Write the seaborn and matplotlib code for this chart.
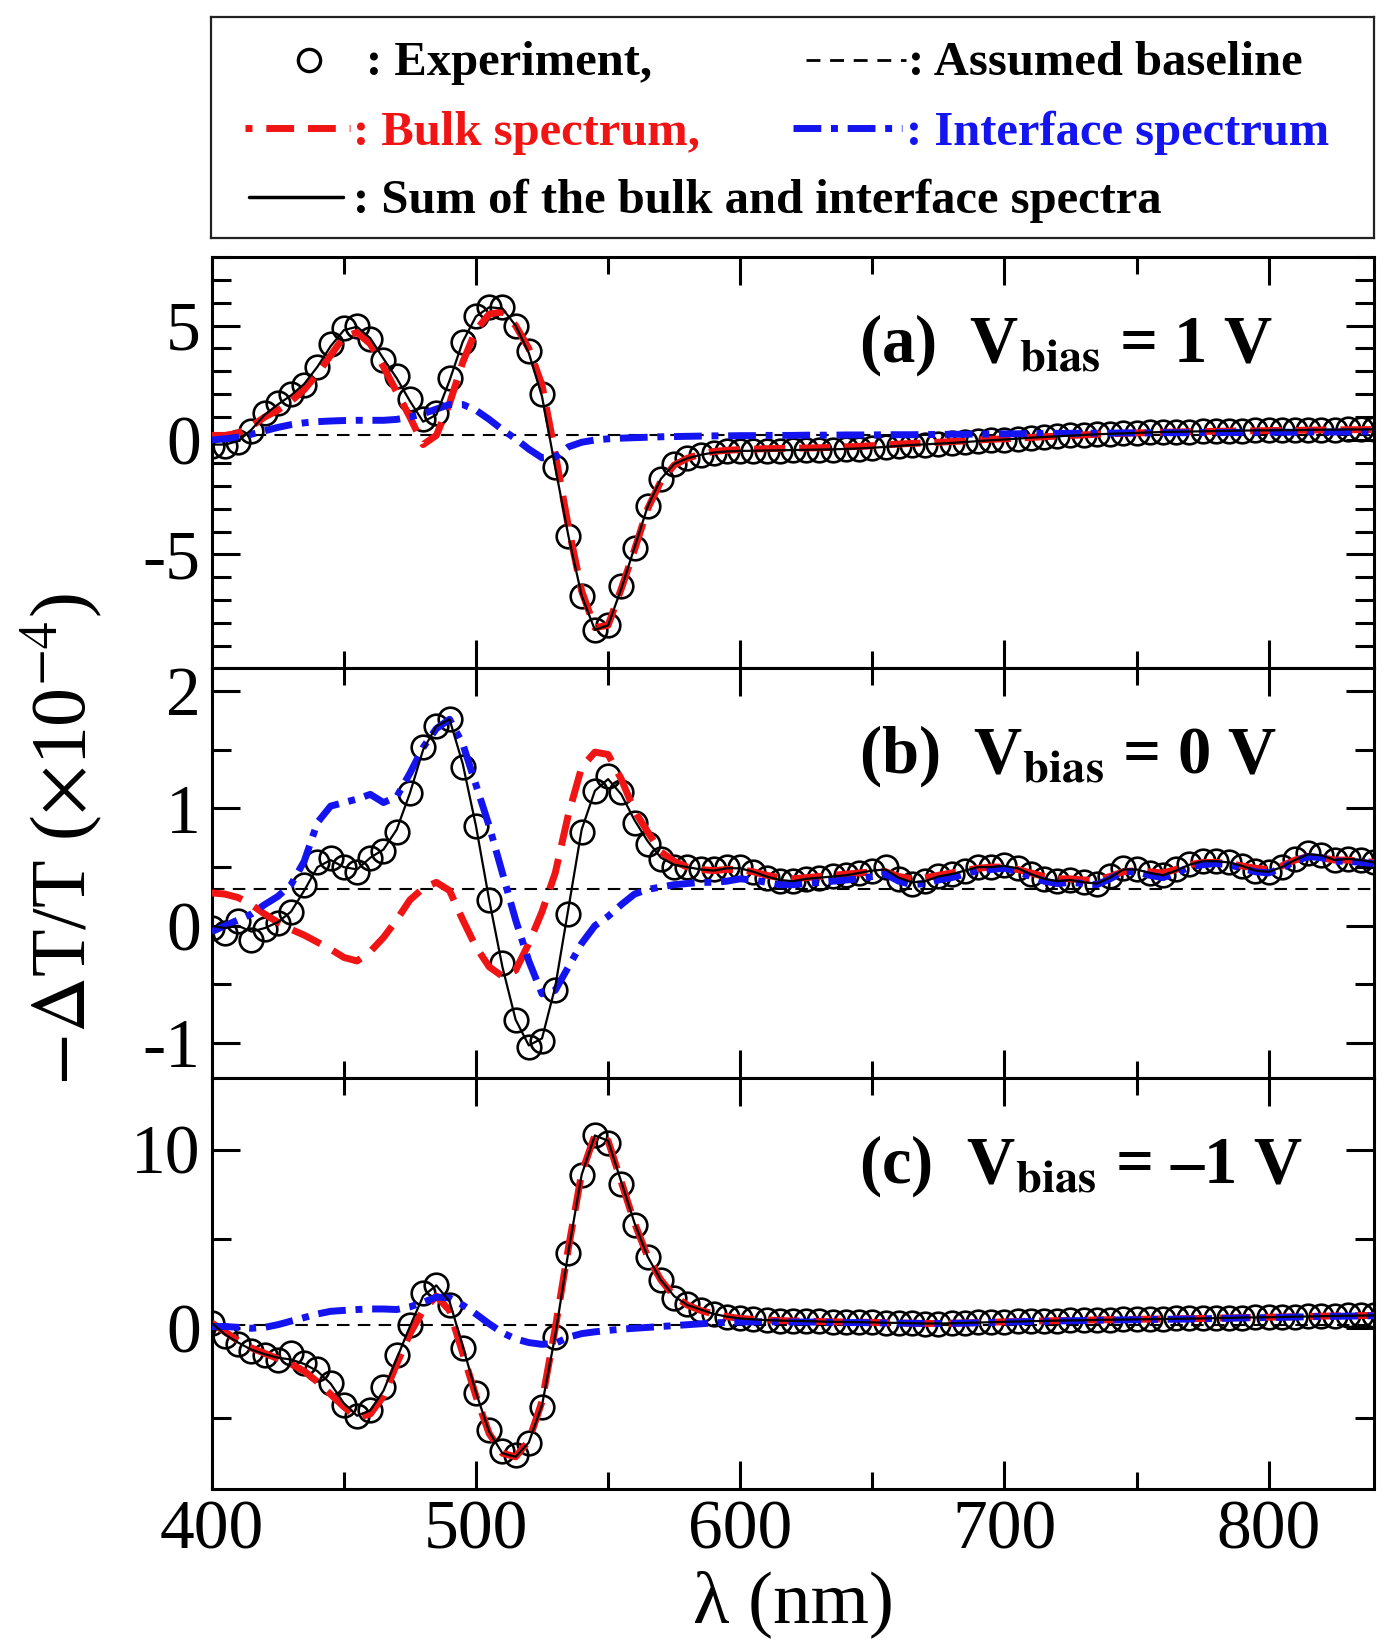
import numpy as np
import seaborn as sns
import matplotlib.pyplot as plt
from matplotlib.ticker import MultipleLocator

# ---------- 1. Data ----------
wl = np.arange(400, 845, 5)  # wavelength grid, nm

# (a) V_bias = 1 V
exp_a = [-0.25, -0.25, -0.1, 0.4, 1.2, 1.6, 2.0, 2.4, 3.2, 4.2,
         4.9, 5.0, 4.4, 3.5, 2.8, 1.8, 0.9, 1.2, 2.7, 4.3,
         5.4, 5.8, 5.8, 5.0, 3.9, 2.0, -1.2, -4.2, -6.8, -8.3,
         -8.1, -6.4, -4.7, -2.9, -1.7, -1.05, -0.8, -0.65, -0.55, -0.5,
         -0.5, -0.48, -0.47, -0.46, -0.45, -0.45, -0.43, -0.42, -0.4, -0.38,
         -0.35, -0.3, -0.26, -0.22, -0.2, -0.17, -0.14, -0.1, -0.05, 0.0,
         0.02, 0.06, 0.1, 0.13, 0.16, 0.2, 0.22, 0.25, 0.28, 0.3,
         0.32, 0.33, 0.35, 0.36, 0.37, 0.38, 0.4, 0.4, 0.41, 0.42,
         0.42, 0.43, 0.44, 0.44, 0.45, 0.45, 0.46, 0.46, 0.47]
bulk_a = [0.2, 0.2, 0.3, 0.6, 1.0, 1.3, 1.7, 2.2, 2.9, 3.7,
          4.5, 4.7, 4.2, 3.2, 2.1, 1.0, -0.2, 0.2, 1.6, 3.4,
          4.8, 5.5, 5.6, 5.0, 4.0, 2.4, -0.6, -3.8, -6.6, -8.2,
          -8.1, -6.5, -4.8, -3.0, -1.8, -1.1, -0.8, -0.62, -0.5, -0.45,
          -0.42, -0.4, -0.38, -0.37, -0.36, -0.35, -0.34, -0.32, -0.3, -0.28,
          -0.25, -0.21, -0.18, -0.15, -0.13, -0.1, -0.07, -0.04, 0.0, 0.03,
          0.05, 0.08, 0.11, 0.14, 0.17, 0.2, 0.22, 0.25, 0.27, 0.29,
          0.31, 0.32, 0.34, 0.35, 0.36, 0.37, 0.38, 0.39, 0.4, 0.4,
          0.41, 0.42, 0.42, 0.43, 0.44, 0.44, 0.45, 0.45, 0.46]
intf_a = [0.0, 0.05, 0.12, 0.25, 0.4, 0.55, 0.67, 0.75, 0.8, 0.83,
          0.85, 0.86, 0.86, 0.86, 0.9, 1.0, 1.15, 1.35, 1.55, 1.55,
          1.3, 0.9, 0.45, 0.05, -0.4, -0.78, -0.75, -0.3, -0.1, 0.0,
          0.05, 0.08, 0.1, 0.12, 0.14, 0.15, 0.16, 0.17, 0.18, 0.18,
          0.19, 0.19, 0.2, 0.2, 0.2, 0.21, 0.21, 0.21, 0.22, 0.22,
          0.22, 0.23, 0.23, 0.23, 0.24, 0.24, 0.25, 0.25, 0.26, 0.26,
          0.27, 0.27, 0.28, 0.28, 0.29, 0.29, 0.3, 0.3, 0.3, 0.31,
          0.31, 0.31, 0.32, 0.32, 0.32, 0.33, 0.33, 0.33, 0.33, 0.34,
          0.34, 0.34, 0.34, 0.35, 0.35, 0.35, 0.35, 0.36, 0.36]
sum_a = [-0.2, -0.2, -0.05, 0.45, 1.1, 1.55, 1.95, 2.45, 3.2, 4.1,
         4.8, 4.95, 4.45, 3.55, 2.7, 1.7, 0.8, 1.1, 2.6, 4.3,
         5.4, 5.8, 5.75, 5.0, 3.8, 1.9, -1.2, -4.2, -6.8, -8.3,
         -8.1, -6.5, -4.7, -2.9, -1.7, -1.05, -0.8, -0.65, -0.55, -0.5,
         -0.48, -0.47, -0.46, -0.45, -0.44, -0.43, -0.42, -0.41, -0.39, -0.37,
         -0.34, -0.3, -0.26, -0.22, -0.19, -0.16, -0.13, -0.09, -0.05, -0.01,
         0.02, 0.06, 0.1, 0.13, 0.16, 0.19, 0.22, 0.25, 0.27, 0.29,
         0.31, 0.33, 0.35, 0.36, 0.37, 0.38, 0.39, 0.4, 0.41, 0.42,
         0.42, 0.43, 0.43, 0.44, 0.45, 0.45, 0.46, 0.46, 0.47]
base_a = 0.2

# (b) V_bias = 0 V
exp_b = [-0.02, -0.06, 0.04, -0.12, -0.03, 0.02, 0.12, 0.35, 0.54, 0.58,
         0.5, 0.46, 0.58, 0.64, 0.8, 1.13, 1.52, 1.7, 1.76, 1.35,
         0.85, 0.22, -0.32, -0.8, -1.03, -0.98, -0.55, 0.1, 0.8, 1.15,
         1.28, 1.14, 0.88, 0.7, 0.57, 0.5, 0.5, 0.48, 0.48, 0.5,
         0.5, 0.46, 0.41, 0.38, 0.38, 0.4, 0.41, 0.42, 0.43, 0.45,
         0.47, 0.5, 0.4, 0.36, 0.38, 0.42, 0.44, 0.47, 0.5, 0.5,
         0.52, 0.49, 0.44, 0.4, 0.38, 0.39, 0.37, 0.36, 0.42, 0.49,
         0.48, 0.45, 0.43, 0.48, 0.53, 0.55, 0.55, 0.54, 0.51, 0.47,
         0.46, 0.5, 0.57, 0.62, 0.6, 0.56, 0.57, 0.56, 0.54]
bulk_b = [0.28, 0.27, 0.24, 0.18, 0.1, 0.03, -0.03, -0.08, -0.14, -0.2,
          -0.27, -0.3, -0.22, -0.1, 0.05, 0.22, 0.32, 0.37, 0.3, 0.05,
          -0.18, -0.35, -0.43, -0.38, -0.15, 0.12, 0.45, 0.95, 1.35, 1.48,
          1.46, 1.25, 0.98, 0.8, 0.63, 0.55, 0.5, 0.48, 0.47, 0.48,
          0.48, 0.46, 0.43, 0.41, 0.4, 0.41, 0.42, 0.43, 0.44, 0.45,
          0.46, 0.46, 0.42, 0.4, 0.41, 0.43, 0.45, 0.47, 0.49, 0.5,
          0.5, 0.48, 0.45, 0.42, 0.4, 0.4, 0.39, 0.39, 0.42, 0.46,
          0.47, 0.46, 0.45, 0.48, 0.52, 0.54, 0.54, 0.53, 0.51, 0.49,
          0.48, 0.51, 0.56, 0.59, 0.58, 0.56, 0.56, 0.55, 0.54]
intf_b = [-0.05, 0.0, 0.05, 0.1, 0.18, 0.25, 0.35, 0.55, 0.88, 1.02,
          1.05, 1.08, 1.12, 1.05, 1.1, 1.3, 1.52, 1.68, 1.76, 1.55,
          1.2, 0.85, 0.45, 0.05, -0.3, -0.58, -0.55, -0.35, -0.15, 0.0,
          0.08, 0.18, 0.27, 0.31, 0.33, 0.35, 0.36, 0.37, 0.37, 0.38,
          0.4, 0.39, 0.37, 0.35, 0.35, 0.36, 0.37, 0.38, 0.39, 0.4,
          0.42, 0.44, 0.38, 0.35, 0.36, 0.39, 0.41, 0.44, 0.47, 0.48,
          0.49, 0.46, 0.42, 0.38, 0.36, 0.37, 0.36, 0.35, 0.4, 0.46,
          0.46, 0.43, 0.41, 0.45, 0.5, 0.52, 0.53, 0.52, 0.49, 0.46,
          0.45, 0.49, 0.55, 0.59, 0.58, 0.55, 0.55, 0.54, 0.53]
sum_b = [0.0, -0.02, 0.0, -0.05, -0.02, 0.03, 0.12, 0.3, 0.5, 0.56,
         0.5, 0.48, 0.58, 0.65, 0.82, 1.13, 1.5, 1.7, 1.76, 1.38,
         0.85, 0.22, -0.35, -0.8, -1.02, -0.96, -0.52, 0.15, 0.82, 1.15,
         1.25, 1.12, 0.9, 0.72, 0.58, 0.52, 0.5, 0.48, 0.47, 0.49,
         0.49, 0.46, 0.42, 0.39, 0.38, 0.4, 0.41, 0.42, 0.43, 0.45,
         0.47, 0.48, 0.41, 0.37, 0.38, 0.42, 0.44, 0.47, 0.5, 0.5,
         0.51, 0.49, 0.44, 0.4, 0.38, 0.39, 0.37, 0.36, 0.41, 0.48,
         0.48, 0.45, 0.43, 0.47, 0.52, 0.55, 0.55, 0.54, 0.51, 0.47,
         0.46, 0.5, 0.56, 0.61, 0.6, 0.56, 0.57, 0.56, 0.54]
base_b = 0.31

# (c) V_bias = -1 V
exp_c = [0.3, -0.45, -0.9, -1.25, -1.5, -1.75, -1.4, -1.95, -2.3, -3.05,
         -4.3, -4.9, -4.6, -3.3, -1.5, 0.2, 2.0, 2.4, 1.3, -1.1,
         -3.6, -5.7, -6.9, -7.1, -6.4, -4.4, -0.5, 4.2, 8.6, 10.8,
         10.4, 8.1, 5.8, 4.0, 2.7, 1.7, 1.35, 1.05, 0.8, 0.65,
         0.55, 0.5, 0.45, 0.42, 0.4, 0.4, 0.38, 0.35, 0.35, 0.33,
         0.33, 0.3, 0.3, 0.28, 0.25, 0.25, 0.28, 0.3, 0.33, 0.35,
         0.35, 0.38, 0.4, 0.42, 0.42, 0.45, 0.45, 0.48, 0.48, 0.5,
         0.5, 0.52, 0.52, 0.55, 0.55, 0.55, 0.58, 0.6, 0.6, 0.62,
         0.62, 0.65, 0.65, 0.68, 0.7, 0.7, 0.72, 0.72, 0.72]
bulk_c = [0.3, -0.2, -0.7, -1.1, -1.4, -1.7, -2.0, -2.4, -3.0, -3.7,
          -4.4, -5.0, -4.8, -3.8, -2.0, -0.3, 1.0, 1.8, 1.0, -1.4,
          -3.8, -5.9, -7.0, -7.2, -6.3, -4.1, 0.0, 4.5, 8.7, 10.8,
          10.5, 8.2, 5.9, 4.0, 2.7, 1.8, 1.3, 1.0, 0.8, 0.65,
          0.55, 0.5, 0.46, 0.43, 0.41, 0.4, 0.38, 0.36, 0.35, 0.34,
          0.33, 0.31, 0.3, 0.28, 0.27, 0.27, 0.28, 0.3, 0.32, 0.34,
          0.36, 0.38, 0.4, 0.41, 0.43, 0.44, 0.45, 0.47, 0.48, 0.49,
          0.5, 0.51, 0.52, 0.53, 0.54, 0.55, 0.57, 0.58, 0.6, 0.61,
          0.62, 0.63, 0.65, 0.66, 0.68, 0.69, 0.7, 0.71, 0.72]
intf_c = [0.1, 0.1, 0.05, 0.0, 0.05, 0.2, 0.4, 0.6, 0.8, 0.95,
          1.0, 1.05, 1.08, 1.08, 1.05, 1.2, 1.45, 1.75, 1.7, 1.3,
          0.8, 0.25, -0.25, -0.6, -0.8, -0.9, -0.85, -0.5, -0.3, -0.2,
          -0.12, -0.05, 0.0, 0.05, 0.1, 0.15, 0.2, 0.25, 0.3, 0.33,
          0.35, 0.36, 0.36, 0.36, 0.35, 0.35, 0.34, 0.33, 0.32, 0.32,
          0.31, 0.3, 0.29, 0.28, 0.27, 0.27, 0.28, 0.29, 0.31, 0.33,
          0.34, 0.36, 0.38, 0.39, 0.41, 0.42, 0.43, 0.45, 0.46, 0.47,
          0.48, 0.49, 0.5, 0.51, 0.52, 0.53, 0.55, 0.56, 0.58, 0.59,
          0.6, 0.61, 0.63, 0.64, 0.66, 0.67, 0.68, 0.69, 0.7]
sum_c = [0.3, -0.35, -0.8, -1.2, -1.45, -1.65, -1.75, -2.0, -2.4, -3.1,
         -4.2, -4.9, -4.6, -3.5, -1.7, 0.1, 1.8, 2.4, 1.5, -1.0,
         -3.6, -5.8, -7.0, -7.2, -6.4, -4.3, -0.4, 4.3, 8.6, 10.8,
         10.5, 8.2, 5.9, 4.0, 2.7, 1.8, 1.3, 1.05, 0.8, 0.65,
         0.55, 0.5, 0.46, 0.43, 0.41, 0.4, 0.38, 0.36, 0.35, 0.34,
         0.33, 0.31, 0.3, 0.28, 0.27, 0.27, 0.28, 0.3, 0.32, 0.34,
         0.36, 0.38, 0.4, 0.41, 0.43, 0.44, 0.45, 0.47, 0.48, 0.49,
         0.5, 0.51, 0.52, 0.53, 0.54, 0.55, 0.57, 0.58, 0.6, 0.61,
         0.62, 0.63, 0.65, 0.66, 0.68, 0.69, 0.7, 0.71, 0.72]
base_c = 0.2

panel_labels = ["(a)  V$_{\\mathbf{bias}}$ = 1 V",
                "(b)  V$_{\\mathbf{bias}}$ = 0 V",
                "(c)  V$_{\\mathbf{bias}}$ = \u20131 V"]
ylims = [(-9.95, 8), (-1.3, 2.2), (-9, 14)]
ymajor = [5, 1, 10]
yminor = [1, 0.5, 5]

RED = "#f01414"
BLUE = "#1414f0"
DASH_RED = (0, (4.5, 2))
DASH_BLUE = (0, (4, 1.4, 1, 1.4))
DASH_BASE = (0, (6, 4))

# ---------- 2. Style ----------
sns.set_theme(style="ticks")
plt.rcParams["font.family"] = ["Liberation Serif", "DejaVu Serif"]
plt.rcParams["mathtext.fontset"] = "stix"
plt.rcParams["axes.unicode_minus"] = False
for key in ["text.color", "axes.labelcolor", "xtick.color", "ytick.color",
            "axes.edgecolor"]:
    plt.rcParams[key] = "black"

fig, axes = plt.subplots(3, 1, figsize=(13.84, 16.44), dpi=100, sharex=True,
                         gridspec_kw=dict(hspace=0))
fig.subplots_adjust(left=0.153, right=0.993, top=0.8437, bottom=0.0943)

panels = [(exp_a, bulk_a, intf_a, sum_a, base_a),
          (exp_b, bulk_b, intf_b, sum_b, base_b),
          (exp_c, bulk_c, intf_c, sum_c, base_c)]

# ---------- 3. Panels ----------
for i, (ax, (exp, bulk, intf, total, base)) in enumerate(zip(axes, panels)):
    ax.axhline(base, color="black", lw=1.5, ls=DASH_BASE, zorder=1)
    sns.lineplot(x=wl, y=exp, ax=ax, marker="o", linestyle="none",
                 markersize=17, markerfacecolor="none", markeredgecolor="black",
                 markeredgewidth=1.9, estimator=None, errorbar=None, zorder=2)
    sns.lineplot(x=wl, y=bulk, ax=ax, color=RED, lw=5, linestyle=DASH_RED,
                 estimator=None, errorbar=None, zorder=3)
    sns.lineplot(x=wl, y=intf, ax=ax, color=BLUE, lw=5, linestyle=DASH_BLUE,
                 estimator=None, errorbar=None, zorder=4)
    sns.lineplot(x=wl, y=total, ax=ax, color="black", lw=1.6,
                 estimator=None, errorbar=None, zorder=5)

    ax.set_xlim(400, 840)
    ax.set_ylim(*ylims[i])
    ax.xaxis.set_major_locator(MultipleLocator(100))
    ax.xaxis.set_minor_locator(MultipleLocator(50))
    ax.yaxis.set_major_locator(MultipleLocator(ymajor[i]))
    ax.yaxis.set_minor_locator(MultipleLocator(yminor[i]))
    ax.tick_params(which="both", direction="in", top=True, right=True,
                   width=2.2, labelsize=50, pad=8)
    ax.tick_params(axis="x", which="major", length=20)
    ax.tick_params(axis="x", which="minor", length=12)
    ax.tick_params(axis="y", which="major", length=20)
    ax.tick_params(axis="y", which="minor", length=14)
    for sp in ax.spines.values():
        sp.set_linewidth(2.2)
        sp.set_color("black")
    ax.set_ylabel("")
    ax.text(0.557, 0.745, panel_labels[i], transform=ax.transAxes,
            fontsize=48, fontweight="bold", va="baseline", ha="left")

axes[-1].set_xlabel("\u03bb (nm)", fontsize=54, labelpad=5)
fig.text(0.044, 0.489, r"$-\Delta$T/T ($\times$10$^{-4}$)", rotation=90,
         fontsize=56, ha="center", va="center")

# ---------- 4. Legend box ----------
leg = fig.add_axes([0.1525, 0.8552, 0.8403, 0.1344])
leg.set_xlim(211, 1374)
leg.set_ylim(238, 17)
leg.set_xticks([])
leg.set_yticks([])
for sp in leg.spines.values():
    sp.set_linewidth(1.6)
    sp.set_color("#222222")

FS = 35
leg.plot([309], [60], marker="o", mfc="none", mec="black", ms=16, mew=2.4)
leg.text(366, 75, ": Experiment,", fontsize=FS, fontweight="bold", va="baseline")
leg.plot([806, 906], [60, 60], color="black", lw=2, ls=(0, (5, 3.5)))
leg.text(908, 75, ": Assumed baseline", fontsize=FS, fontweight="bold", va="baseline")

leg.plot([245, 350], [128, 128], color=RED, lw=5, ls=(3, (4, 2)))
leg.text(353, 145, ": Bulk spectrum,", fontsize=FS, fontweight="bold", va="baseline", color=RED)
leg.plot([793, 902], [128, 128], color=BLUE, lw=5, ls=DASH_BLUE)
leg.text(906, 145, ": Interface spectrum", fontsize=FS, fontweight="bold", va="baseline", color=BLUE)

leg.plot([249, 343], [197, 197], color="black", lw=2.5)
leg.text(353, 213, ": Sum of the bulk and interface spectra", fontsize=FS,
         fontweight="bold", va="baseline")

plt.savefig("out.png", dpi=100)
